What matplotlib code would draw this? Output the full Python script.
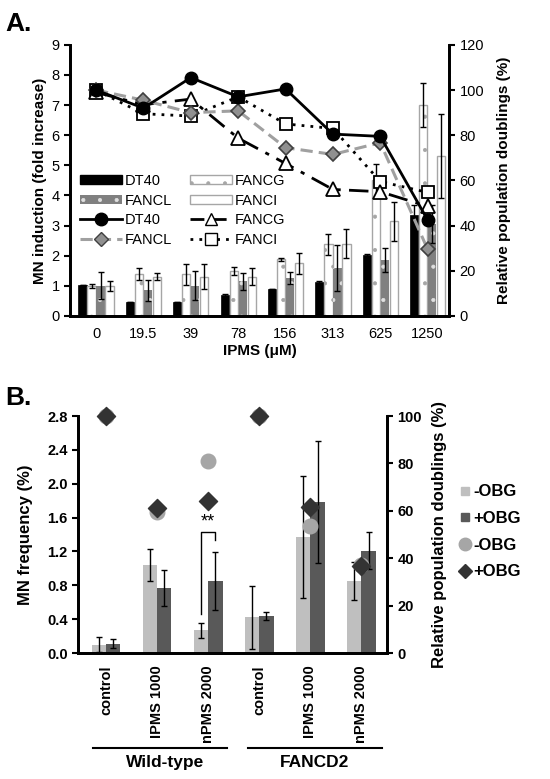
import matplotlib
matplotlib.use("Agg")
import matplotlib.pyplot as plt
import numpy as np
from matplotlib.lines import Line2D
from matplotlib.patches import Patch
from matplotlib.transforms import blended_transform_factory

plt.rcParams['font.family'] = ['Liberation Sans', 'DejaVu Sans']
plt.rcParams['hatch.linewidth'] = 0.5

# ---------------- Panel A data ----------------
doses = ["0", "19.5", "39", "78", "156", "313", "625", "1250"]
mn_dt40 = [1.02, 0.45, 0.45, 0.68, 0.90, 1.12, 2.02, 3.35]
mn_dt40_err = [0.0, 0.0, 0.0, 0.05, 0.0, 0.05, 0.04, 0.35]
mn_fancg = [1.00, 1.38, 1.38, 1.50, 1.88, 2.38, 4.50, 7.00]
mn_fancg_err = [0.06, 0.20, 0.35, 0.13, 0.06, 0.35, 0.55, 0.72]
mn_fancl = [1.00, 0.85, 1.00, 1.15, 1.25, 1.60, 1.85, 3.05]
mn_fancl_err = [0.45, 0.35, 0.48, 0.28, 0.20, 0.76, 0.40, 0.62]
mn_fanci = [1.00, 1.30, 1.30, 1.30, 1.75, 2.40, 3.15, 5.30]
mn_fanci_err = [0.17, 0.12, 0.42, 0.28, 0.35, 0.48, 0.65, 1.40]

rpd_dt40 = [100, 92, 105.5, 97, 100.5, 80.5, 79.5, 42.5]
rpd_fancg = [99, 93.5, 96, 78.7, 67.5, 56, 55, 48.5]
rpd_fancl = [100, 95.5, 90, 90.8, 74.5, 71.5, 76.7, 29.5]
rpd_fanci = [100, 89.5, 88.5, 97, 85, 83, 59.5, 54.7]

# ---------------- Panel B data ----------------
b_cats = ["control", "IPMS 1000", "nPMS 2000", "control", "IPMS 1000", "nPMS 2000"]
b_groups = ["Wild-type", "FANCD2"]
mnf_minus = [0.10, 1.04, 0.27, 0.42, 1.37, 0.85]
mnf_minus_err = [0.09, 0.19, 0.09, 0.37, 0.72, 0.22]
mnf_plus = [0.11, 0.77, 0.85, 0.44, 1.78, 1.21]
mnf_plus_err = [0.05, 0.21, 0.34, 0.05, 0.72, 0.22]
rpd_minus = [100, 59.5, 81, 100, 53.5, 37]
rpd_plus = [100, 61, 64, 100, 61.5, 36.7]

fig = plt.figure(figsize=(5.5, 7.79), dpi=100)

# ================= Panel A =================
axA = fig.add_axes([0.1273, 0.5944, 0.689, 0.348])
axA2 = axA.twinx()
x = np.arange(len(doses))
w = 0.19
bw = 0.175
axA.bar(x - 1.5 * w, mn_dt40, bw, color='black', edgecolor='black', linewidth=0.5, zorder=2)
axA.bar(x - 0.5 * w, mn_fancg, bw, color='white', edgecolor='#a6a6a6', hatch='.', linewidth=1.0, zorder=2)
axA.bar(x + 0.5 * w, mn_fancl, bw, color='#808080', edgecolor='#e0e0e0', hatch='.', linewidth=0, zorder=2)
axA.bar(x + 1.5 * w, mn_fanci, bw, color='white', edgecolor='#a6a6a6', linewidth=1.0, zorder=2)
for off, vals, errs in [(-1.5, mn_dt40, mn_dt40_err), (-0.5, mn_fancg, mn_fancg_err),
                        (0.5, mn_fancl, mn_fancl_err), (1.5, mn_fanci, mn_fanci_err)]:
    axA.errorbar(x + off * w, vals, yerr=errs, fmt='none', ecolor='black',
                 elinewidth=1.0, capsize=2.5, capthick=1.0, zorder=3)

axA.set_ylim(0, 9)
axA.set_yticks(range(0, 10))
axA.set_xlim(-0.55, 7.45)
axA.set_xticks(x)
axA.set_xticklabels(doses)
axA2.set_ylim(0, 120)
axA2.set_yticks(range(0, 121, 20))

axA2.plot(x, rpd_fanci, linestyle=(0, (1, 2.2)), color='black', linewidth=2.0,
          marker='s', markersize=8.5, markerfacecolor='white', markeredgecolor='black', markeredgewidth=1.3, zorder=3)
axA2.plot(x, rpd_fancg, linestyle=(0, (7, 3, 1.5, 3)), color='black', linewidth=2.0,
          marker='^', markersize=10, markerfacecolor='white', markeredgecolor='black', markeredgewidth=1.3, zorder=4)
axA2.plot(x, rpd_fancl, linestyle=(0, (4, 2)), color='#a0a0a0', linewidth=2.2,
          marker='D', markersize=7.5, markerfacecolor='#909090', markeredgecolor='#404040', markeredgewidth=1.2, zorder=5)
axA2.plot(x, rpd_dt40, linestyle='-', color='black', linewidth=2.0,
          marker='o', markersize=9, markerfacecolor='black', markeredgecolor='black', zorder=6)

for a in (axA, axA2):
    a.spines['top'].set_visible(False)
    for s in ('left', 'right', 'bottom'):
        a.spines[s].set_linewidth(2.0)
axA.tick_params(axis='y', direction='out', length=4, width=1.5, labelsize=10.5)
axA2.tick_params(axis='y', direction='out', length=4, width=1.5, labelsize=10.5)
axA.tick_params(axis='x', length=0, labelsize=10.5, pad=8)
axA.set_ylabel("MN induction (fold increase)", fontsize=11, fontweight='bold', labelpad=3)
axA2.set_ylabel("Relative population doublings (%)", fontsize=11, fontweight='bold', labelpad=9)
axA.set_xlabel("IPMS (μM)", fontsize=11, fontweight='bold', labelpad=2)

hA = [
    Patch(facecolor='black', edgecolor='black'),
    Patch(facecolor='#808080', edgecolor='#e0e0e0', hatch='.', linewidth=0),
    Line2D([], [], color='black', linewidth=2, marker='o', markersize=9),
    Line2D([], [], color='#a0a0a0', linewidth=2.2, linestyle=(0, (4, 2)), marker='D', markersize=7.5,
           markerfacecolor='#909090', markeredgecolor='#404040'),
    Patch(facecolor='white', edgecolor='#a6a6a6', hatch='.'),
    Patch(facecolor='white', edgecolor='#a6a6a6'),
    Line2D([], [], color='black', linewidth=2, linestyle=(0, (5, 3)), marker='^', markersize=9,
           markerfacecolor='white', markeredgecolor='black'),
    Line2D([], [], color='black', linewidth=2, linestyle=(0, (1, 2.2)), marker='s', markersize=8,
           markerfacecolor='white', markeredgecolor='black'),
]
lA = ["DT40", "FANCL", "DT40", "FANCL", "FANCG", "FANCI", "FANCG", "FANCI"]
axA2.legend(hA, lA, ncol=2, loc='upper left', bbox_to_anchor=(0.01, 0.545), frameon=False,
            fontsize=10.5, handlelength=2.9, handleheight=0.55, labelspacing=0.38,
            columnspacing=1.2, handletextpad=0.2, borderaxespad=0)

fig.text(0.01, 0.985, "A.", fontsize=19, fontweight='bold', va='top', ha='left')

# ================= Panel B =================
axB = fig.add_axes([0.1418, 0.1617, 0.5618, 0.3042])
axB2 = axB.twinx()
xb = np.arange(len(b_cats))
bwb = 0.28
axB.bar(xb - bwb / 2, mnf_minus, bwb, color='#bfbfbf', zorder=2)
axB.bar(xb + bwb / 2, mnf_plus, bwb, color='#595959', zorder=2)
axB.errorbar(xb - bwb / 2, mnf_minus, yerr=mnf_minus_err, fmt='none', ecolor='black',
             elinewidth=1.0, capsize=2.5, capthick=1.0, zorder=3)
axB.errorbar(xb + bwb / 2, mnf_plus, yerr=mnf_plus_err, fmt='none', ecolor='black',
             elinewidth=1.0, capsize=2.5, capthick=1.0, zorder=3)
axB.set_ylim(0, 2.8)
axB.set_yticks(np.arange(0, 2.81, 0.4))
axB.set_yticklabels([f"{v:.1f}" for v in np.arange(0, 2.81, 0.4)])
axB.set_xlim(-0.55, 5.5)
axB.set_xticks(xb)
axB.set_xticklabels(b_cats, rotation=90)

axB2.set_ylim(0, 100)
axB2.set_yticks(range(0, 101, 20))
axB2.scatter(xb, rpd_minus, s=110, marker='o', color='#a6a6a6', zorder=4, clip_on=False)
axB2.scatter(xb, rpd_plus, s=85, marker='D', color='#333333', zorder=5, clip_on=False)

# significance bracket
xl, xr = 2 - bwb / 2, 2 + bwb / 2
axB.plot([xl, xl, xr, xr], [0.46, 1.43, 1.43, 1.33], color='black', linewidth=1.0, zorder=4)
axB.text(2, 1.45, "**", ha='center', va='bottom', fontsize=13)

for a in (axB, axB2):
    a.spines['top'].set_visible(False)
    for s in ('left', 'right', 'bottom'):
        a.spines[s].set_linewidth(2.0)
axB.tick_params(axis='y', direction='out', length=4, width=1.5, labelsize=10.5)
axB2.tick_params(axis='y', direction='out', length=4, width=1.5, labelsize=10.5)
axB.tick_params(axis='x', length=0, labelsize=10.5, pad=9)
for lab in axB.get_yticklabels() + axB2.get_yticklabels() + axB.get_xticklabels():
    lab.set_fontweight('bold')
axB.set_ylabel("MN frequency (%)", fontsize=12, fontweight='bold', labelpad=10)
axB2.set_ylabel("Relative population doublings (%)", fontsize=12, fontweight='bold', labelpad=7)

tr = blended_transform_factory(axB.transData, axB.transAxes)
for (x0, x1, xc), g in zip([(-0.26, 2.37, 1.15), (2.78, 5.40, 4.09)], b_groups):
    axB.plot([x0, x1], [-0.40, -0.40], color='black', linewidth=1.5, transform=tr, clip_on=False)
    axB.text(xc, -0.43, g, transform=tr, ha='center', va='top', fontsize=12.5, fontweight='bold')

hB = [
    Line2D([], [], linestyle='none', marker='s', markersize=6, color='#bfbfbf'),
    Line2D([], [], linestyle='none', marker='s', markersize=6, color='#595959'),
    Line2D([], [], linestyle='none', marker='o', markersize=9, color='#a6a6a6'),
    Line2D([], [], linestyle='none', marker='D', markersize=7, color='#333333'),
]
lB = ["-OBG", "+OBG", "-OBG", "+OBG"]
legB = fig.legend(hB, lB, loc='center left', bbox_to_anchor=(452 / 550, 1 - 532 / 779), frameon=False,
                  fontsize=12, handlelength=0.8, handletextpad=0.1, labelspacing=0.7, borderaxespad=0)
for t in legB.get_texts():
    t.set_fontweight('bold')

fig.text(0.01, 0.505, "B.", fontsize=19, fontweight='bold', va='top', ha='left')

fig.savefig("out.png", dpi=100)
